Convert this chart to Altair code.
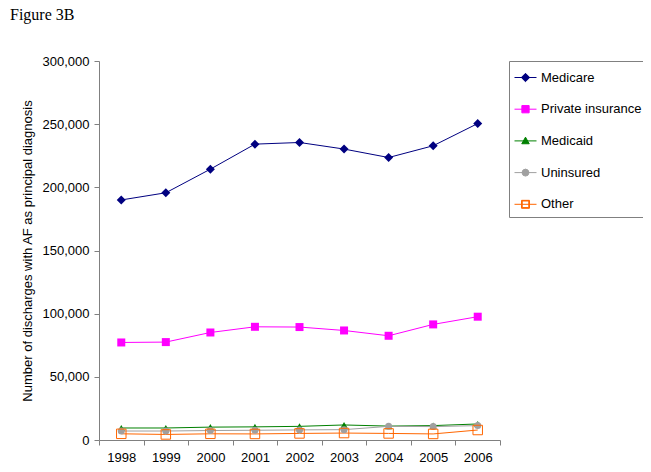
import altair as alt
import pandas as pd

years = ["1998", "1999", "2000", "2001", "2002", "2003", "2004", "2005", "2006"]
medicare = [190000, 195700, 214400, 234200, 235500, 230300, 223600, 232900, 250500]
private_ins = [77200, 77500, 85100, 89600, 89400, 86700, 82500, 91500, 97600]
medicaid = [9500, 9500, 10200, 10400, 10800, 11900, 11000, 11400, 12700]
uninsured = [7100, 7100, 7500, 7700, 8000, 8200, 10800, 10600, 11400]
other = [4900, 4400, 4900, 4800, 5200, 5500, 5200, 4800, 7900]

series_names = ["Medicare", "Private insurance", "Medicaid", "Uninsured", "Other"]
series_values = [medicare, private_ins, medicaid, uninsured, other]
colors = ["#000080", "#FF00FF", "#008000", "#A0A0A0", "#FF6600"]
plot_shapes = ["diamond", "square", "triangle-up", "circle", "square"]
plot_filled = [True, True, True, True, False]
plot_sizes = [81, 64, 50, 49, 90]
legend_paths = [
    "M-1,0L1,0M0,-0.38L0.38,0L0,0.38L-0.38,0Z",
    "M-1,0L1,0M-0.33,-0.33L0.33,-0.33L0.33,0.33L-0.33,0.33Z",
    "M-1,0L1,0M0,-0.34L0.34,0.26L-0.34,0.26Z",
    "M-1,0L1,0M-0.32,0L-0.23,-0.23L0,-0.32L0.23,-0.23L0.32,0L0.23,0.23L0,0.32L-0.23,0.23Z",
    "M-1,0L1,0M-0.36,-0.36L0.36,-0.36L0.36,0.36L-0.36,0.36ZM-0.3,-0.3L-0.3,0.3L0.3,0.3L0.3,-0.3Z",
]

rows = []
for name, vals in zip(series_names, series_values):
    for y, v in zip(years, vals):
        rows.append({"year": y, "series": name, "value": v})
df = pd.DataFrame(rows)

FONT = "Liberation Sans"

x_enc = alt.X(
    "year:O",
    title=None,
    sort=years,
    scale=alt.Scale(type="band", paddingInner=0, paddingOuter=0),
    axis=alt.Axis(labelAngle=0, tickBand="extent", labelPadding=6),
)
y_enc = alt.Y(
    "value:Q",
    title="Number of discharges with AF as principal diagnosis",
    scale=alt.Scale(domain=[0, 300000], nice=False, zero=True),
    axis=alt.Axis(values=[0, 50000, 100000, 150000, 200000, 250000, 300000],
                  format=",d", labelPadding=5, titlePadding=8),
)

color_scale = alt.Scale(domain=series_names, range=colors)

base = alt.Chart(df)

lines = base.mark_line(strokeWidth=1, opacity=1).encode(
    x=x_enc,
    y=y_enc,
    color=alt.Color("series:N", scale=color_scale, legend=alt.Legend(title=None)),
    detail="series:N",
)

layers = [lines]
for name, col, shp, fl, sz in zip(series_names, colors, plot_shapes, plot_filled, plot_sizes):
    m = base.transform_filter(alt.datum.series == name).mark_point(
        shape=shp, filled=fl, color=col, size=sz, opacity=1, strokeWidth=1
    ).encode(x=x_enc, y=y_enc)
    layers.append(m)

legend_layer = base.mark_point(filled=True, opacity=0).encode(
    x=x_enc,
    y=y_enc,
    color=alt.Color("series:N", scale=color_scale, legend=alt.Legend(title=None)),
    shape=alt.Shape("series:N", scale=alt.Scale(domain=series_names, range=legend_paths),
                    legend=alt.Legend(title=None)),
)
layers.append(legend_layer)

chart = alt.layer(*layers).properties(
    width=401,
    height=379,
    autosize=alt.AutoSizeParams(type="none"),
    padding={"left": 91, "top": 53, "right": 143, "bottom": 24},
    title=alt.TitleParams(
        text="Figure 3B", anchor="start", frame="group", font="Liberation Serif",
        fontSize=16, fontWeight="normal", color="black", dx=-89, offset=32,
    ),
).configure_view(stroke=None).configure_axis(
    grid=False,
    domainColor="#808080",
    tickColor="#808080",
    tickSize=5,
    labelFont=FONT,
    labelFontSize=13,
    labelColor="black",
    titleFont=FONT,
    titleFontSize=13,
    titleFontWeight="normal",
    titleColor="black",
).configure_legend(
    offset=9,
    strokeColor="#808080",
    fillColor="white",
    padding=5,
    symbolSize=484,
    symbolStrokeWidth=1,
    labelFont=FONT,
    labelFontSize=13,
    labelColor="black",
    labelOffset=4,
    rowPadding=12.7,
)

chart.save("out.html", embed_options={"renderer": "svg", "actions": False})
